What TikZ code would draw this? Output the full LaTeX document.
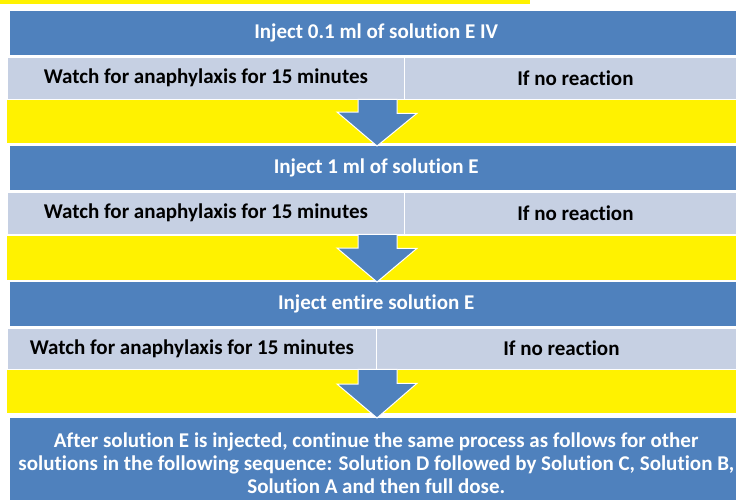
\documentclass[tikz,border=0pt]{standalone}
\usepackage{fontspec}
\setmainfont{Carlito}[Ligatures=NoCommon]
\definecolor{hdblue}{HTML}{4F81BD}
\definecolor{cellgray}{HTML}{C6D0E3}

\begin{document}
\begin{tikzpicture}[
  x=1pt, y=-1pt,
  headbox/.style={
    rectangle,
    anchor=north west,
    fill=hdblue,
    text=white,
    minimum width=732pt,
    minimum height=44pt,
    inner sep=0pt,
    font=\fontsize{21}{24}\selectfont\bfseries
  },
  cellbox/.style={
    rectangle,
    anchor=north west,
    fill=cellgray,
    draw=white,
    line width=0.8pt,
    minimum height=41.5pt,
    inner sep=0pt,
    font=\fontsize{21}{24}\selectfont\bfseries
  },
  bandbox/.style={
    rectangle,
    anchor=north west,
    fill=yellow,
    minimum width=739pt,
    minimum height=43pt,
    inner sep=0pt
  },
  flowarrow/.style={
    fill=hdblue,
    draw=white,
    line width=1pt
  }
]
\useasboundingbox (0,0) rectangle (736,499);
\fill[yellow] (0,0) rectangle (530,4);
\node[headbox] (head1) at (10,11) {Inject 0.1 ml of solution E IV};
\node[cellbox, minimum width=397pt] (row1l) at (7,57) {Watch for anaphylaxis for 15 minutes};
\node[cellbox, minimum width=342pt] (row1r) at (404,57) {If no reaction};
\node[bandbox] (band1) at (7,100) {};
\node[headbox] (head2) at (10,146) {Inject 1 ml of solution E};
\node[cellbox, minimum width=397pt] (row2l) at (7,192) {Watch for anaphylaxis for 15 minutes};
\node[cellbox, minimum width=342pt] (row2r) at (404,192) {If no reaction};
\node[bandbox, minimum height=44pt] (band2) at (7,236) {};
\node[headbox, minimum height=43.5pt] (head3) at (10,282) {Inject entire solution E};
\node[cellbox, minimum width=369pt, minimum height=41pt] (row3l) at (7,327.5) {Watch for anaphylaxis for 15 minutes};
\node[cellbox, minimum width=370pt, minimum height=41pt] (row3r) at (376,327.5) {If no reaction};
\node[bandbox] (band3) at (7,370) {};
\node[headbox, minimum height=90pt, align=center, font=\fontsize{21}{23}\selectfont\bfseries] (last) at (10,418) {After solution E is injected, continue the same process as follows for other\\solutions in the following sequence: Solution D followed by Solution C, Solution B,\\Solution A and then full dose.};
\draw[flowarrow] (358,0 |- row1l.south) -- (397,0 |- row1l.south) -- ++(0,14) -- ++(20,0) -- (377,0 |- head2.north) -- ++(-40,-34) -- ++(21,0) -- cycle;
\draw[flowarrow] (358,0 |- row2l.south) -- (397,0 |- row2l.south) -- ++(0,14) -- ++(20,0) -- (377,0 |- head3.north) -- ++(-40,-34) -- ++(21,0) -- cycle;
\draw[flowarrow] (358,0 |- row3l.south) -- (397,0 |- row3l.south) -- ++(0,14) -- ++(20,0) -- (377,0 |- last.north) -- ++(-40,-34) -- ++(21,0) -- cycle;
\end{tikzpicture}
\end{document}
